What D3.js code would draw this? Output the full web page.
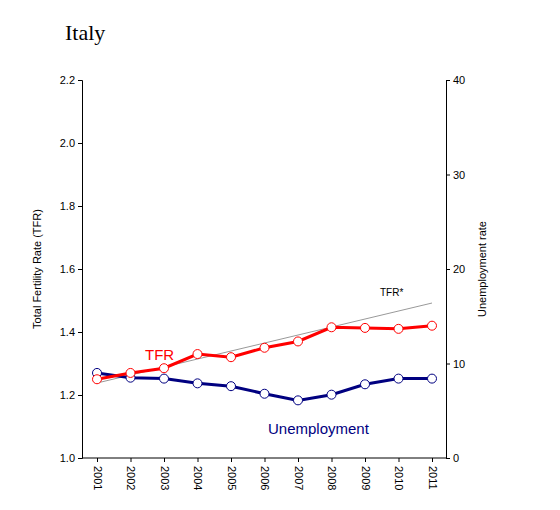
<!DOCTYPE html>
<html><head><meta charset="utf-8">
<script src="https://cdn.jsdelivr.net/npm/d3@7"></script>
<style>body{margin:0;background:#fff}</style>
</head><body>
<svg id="chart" width="560" height="510"></svg>
<script>
const years = [2001,2002,2003,2004,2005,2006,2007,2008,2009,2010,2011];
const tfr = [1.25,1.27,1.285,1.33,1.32,1.35,1.37,1.415,1.413,1.41,1.42];
const unemployment = [9.0,8.5,8.4,7.9,7.6,6.8,6.1,6.7,7.8,8.4,8.4];
const tfrTrend = [[2001,1.238],[2011,1.492]];
const leftTicks = [1.0,1.2,1.4,1.6,1.8,2.0,2.2];
const rightTicks = [0,10,20,30,40];

const svg = d3.select("#chart");
const mLeft = 82, mRight = 446, mTop = 80, mBottom = 458;

const x = d3.scalePoint().domain(years).range([97, 432]);
const y = d3.scaleLinear().domain([1.0, 2.2]).range([mBottom, mTop]);
const y2 = d3.scaleLinear().domain([0, 40]).range([mBottom, mTop]);

svg.append("text").attr("x", 65).attr("y", 40)
  .style("font-family", "Liberation Serif, Times New Roman, serif").style("font-size", "22px")
  .text("Italy");

const font = "Liberation Sans, Arial, sans-serif";

const gl = svg.append("g").attr("transform", `translate(${mLeft},0)`)
  .call(d3.axisLeft(y).tickValues(leftTicks).tickFormat(d3.format(".1f")).tickSize(4));
const gr = svg.append("g").attr("transform", `translate(${mRight},0)`)
  .call(d3.axisRight(y2).tickValues(rightTicks).tickSize(4));
const gb = svg.append("g").attr("transform", `translate(0,${mBottom})`)
  .call(d3.axisBottom(x).tickSize(4));
gb.select(".domain").attr("d", `M${mLeft},0H${mRight}`);
gb.selectAll("text").attr("transform", "rotate(90)").attr("text-anchor", "start")
  .attr("x", 8).attr("y", 0).attr("dy", "0.35em");
[gl, gr, gb].forEach(g => g.selectAll("text").style("font-family", font).style("font-size", "11px").attr("fill", "#000"));

svg.append("text").attr("transform", `translate(41,${(mTop+mBottom)/2}) rotate(-90)`)
  .attr("text-anchor", "middle").style("font-family", font).style("font-size", "11px")
  .text("Total Fertility Rate (TFR)");
svg.append("text").attr("transform", `translate(486,${(mTop+mBottom)/2}) rotate(-90)`)
  .attr("text-anchor", "middle").style("font-family", font).style("font-size", "11px")
  .text("Unemployment rate");

// trend line
svg.append("path").datum(tfrTrend)
  .attr("d", d3.line().x(d => x(d[0])).y(d => y(d[1])))
  .attr("stroke", "#999").attr("stroke-width", 1).attr("fill", "none");
svg.append("text").attr("x", 380).attr("y", 296).style("font-family", font).style("font-size", "10px").text("TFR*");

function series(vals, sc, color) {
  const pts = years.map((yr, i) => [x(yr), sc(vals[i])]);
  svg.append("path").datum(pts).attr("d", d3.line())
    .attr("stroke", color).attr("stroke-width", 3).attr("fill", "none");
  svg.selectAll(null).data(pts).enter().append("circle")
    .attr("cx", d => d[0]).attr("cy", d => d[1]).attr("r", 4.5)
    .attr("fill", "#fff").attr("stroke", color).attr("stroke-width", 1);
}
series(unemployment, y2, "#000080");
series(tfr, y, "#ff0000");

svg.append("text").attr("x", 145).attr("y", 360).attr("fill", "#ff0000")
  .style("font-family", font).style("font-size", "15px").text("TFR");
svg.append("text").attr("x", 268).attr("y", 434).attr("fill", "#000080")
  .style("font-family", font).style("font-size", "15px").text("Unemployment");
</script>
</body></html>
